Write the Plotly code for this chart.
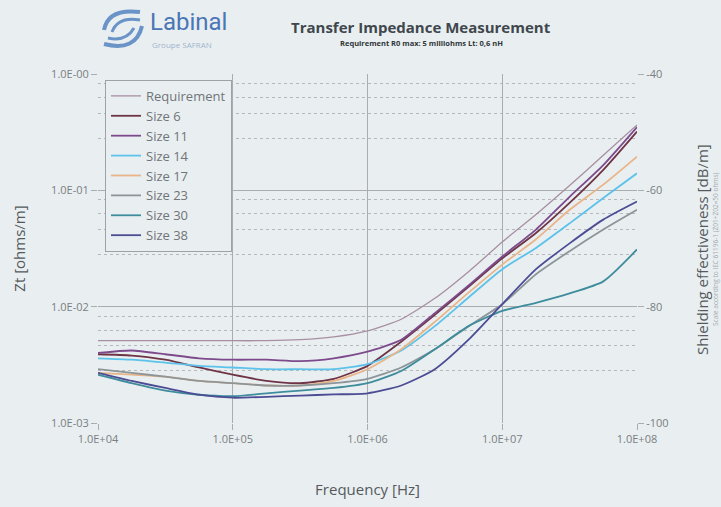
import plotly.graph_objects as go

# ---------------- data ----------------
freq = [1e4, 1.78e4, 3.16e4, 5.62e4, 1e5, 1.78e5, 3.16e5, 5.62e5, 1e6,
        1.78e6, 3.16e6, 5.62e6, 1e7, 1.78e7, 3.16e7, 5.62e7, 1e8]

requirement = [0.0051, 0.0051, 0.0051, 0.0051, 0.0051, 0.0051, 0.0052, 0.0055, 0.0062,
               0.0078, 0.0118, 0.0200, 0.036, 0.062, 0.11, 0.20, 0.365]
size6 = [0.0039, 0.0038, 0.0035, 0.0030, 0.0026, 0.0023, 0.0022, 0.0024, 0.0031,
         0.0050, 0.0085, 0.0148, 0.026, 0.043, 0.078, 0.15, 0.32]
size11 = [0.0040, 0.0042, 0.0039, 0.0036, 0.0035, 0.0035, 0.0034, 0.0036, 0.0041,
          0.0052, 0.0088, 0.0152, 0.027, 0.046, 0.088, 0.165, 0.35]
size14 = [0.0036, 0.0035, 0.0033, 0.0031, 0.0030, 0.0029, 0.0029, 0.0029, 0.0032,
          0.0042, 0.0068, 0.0120, 0.021, 0.032, 0.052, 0.086, 0.14]
size17 = [0.0027, 0.0026, 0.0025, 0.0023, 0.0022, 0.0021, 0.0021, 0.0023, 0.0029,
          0.0043, 0.0074, 0.0132, 0.023, 0.038, 0.068, 0.112, 0.195]
size23 = [0.0029, 0.0027, 0.0025, 0.0023, 0.0022, 0.0021, 0.0021, 0.0022, 0.0024,
          0.0030, 0.0043, 0.0068, 0.0105, 0.0190, 0.030, 0.046, 0.068]
size30 = [0.0026, 0.0022, 0.0019, 0.00175, 0.0017, 0.0018, 0.0019, 0.0020, 0.0022,
          0.0028, 0.0043, 0.0068, 0.0092, 0.0108, 0.013, 0.0165, 0.031]
size38 = [0.0027, 0.0023, 0.0020, 0.00175, 0.00165, 0.00168, 0.00172, 0.00176, 0.0018,
          0.0021, 0.0029, 0.0052, 0.0105, 0.021, 0.035, 0.056, 0.080]

series_names = ["Requirement", "Size 6", "Size 11", "Size 14", "Size 17",
                "Size 23", "Size 30", "Size 38"]
series_values = [requirement, size6, size11, size14, size17, size23, size30, size38]

x_tickvals = [1e4, 1e5, 1e6, 1e7, 1e8]
x_ticktext = ["1.0E+04", "1.0E+05", "1.0E+06", "1.0E+07", "1.0E+08"]
y_tickvals = [1, 0.1, 0.01, 0.001]
y_ticktext = ["1.0E-00", "1.0E-01", "1.0E-02", "1.0E-03"]
y_minor = [m * d for d in (1, 0.1, 0.01) for m in (0.83, 0.63, 0.46, 0.28)]
y2_tickvals = [-40, -60, -80, -100]
y2_ticktext = ["-40", "-60", "-80", "-100"]

# ---------------- styling ----------------
colors = ["#a88ea2", "#6e3446", "#7d4a8c", "#5cc2ea", "#e9b488",
          "#8d9599", "#3e8c9c", "#4c4c94"]
widths = [1.3, 1.8, 1.8, 1.8, 1.8, 1.8, 1.8, 1.8]
BG = "#e9eff1"
FONT = "Open Sans"
GRID = "#a9adb0"

fig = go.Figure()
for name, vals, c, w in zip(series_names, series_values, colors, widths):
    fig.add_trace(go.Scatter(x=freq, y=vals, name=name, mode="lines",
                             line=dict(color=c, width=w, shape="spline", smoothing=0.6)))

# helper trace so the dB axis is drawn
fig.add_trace(go.Scatter(x=[1e4, 1e8], y=[-100, -40], yaxis="y2", mode="lines",
                         line=dict(color="rgba(0,0,0,0)"), showlegend=False,
                         hoverinfo="skip"))

L, R, T, B = 98, 84, 74, 84
W, H = 721, 507
pw, ph = W - L - R, H - T - B


def px(x, y):
    return (x - L) / pw, (H - B - y) / ph


fig.update_layout(
    width=W, height=H,
    margin=dict(l=L, r=R, t=T, b=B),
    paper_bgcolor=BG, plot_bgcolor=BG,
    font=dict(family=FONT, color="#707070", size=11),
    showlegend=True,
    legend=dict(x=0.013, y=0.983, xanchor="left", yanchor="top",
                bgcolor=BG, bordercolor="#9da2a5", borderwidth=1,
                font=dict(size=13, color="#707478"), itemwidth=30,
                tracegroupgap=0),
    xaxis=dict(type="log", range=[4, 8], tickvals=x_tickvals, ticktext=x_ticktext,
               showgrid=True, gridcolor=GRID, gridwidth=1, zeroline=False,
               ticks="outside", ticklen=6, tickcolor=GRID,
               showline=False, tickfont=dict(size=11, color="#7a7e82"),
               title=dict(text="Frequency [Hz]", font=dict(size=15, color="#55595c"),
                          standoff=39)),
    yaxis=dict(type="log", range=[-3, 0], tickvals=y_tickvals, ticktext=y_ticktext,
               showgrid=True, gridcolor=GRID, gridwidth=1, zeroline=False,
               ticks="outside", ticklen=6, tickcolor=GRID,
               tickfont=dict(size=11, color="#7a7e82"),
               minor=dict(tickvals=y_minor, showgrid=True, gridcolor="#b5b9bc",
                          griddash="dot", gridwidth=1, ticks=""),
               title=dict(text="Zt [ohms/m]", font=dict(size=15, color="#55595c"),
                          standoff=21)),
    yaxis2=dict(overlaying="y", side="right", range=[-100, -40],
                tickvals=y2_tickvals, ticktext=y2_ticktext, showgrid=False,
                zeroline=False, ticks="outside", ticklen=6, tickcolor=GRID,
                tickfont=dict(size=11, color="#7a7e82")),
)

# title and subtitle
fig.add_annotation(text="<b>Transfer Impedance Measurement</b>", xref="paper", yref="paper",
                   x=px(421, 0)[0], y=px(0, 27)[1], showarrow=False,
                   font=dict(size=15, color="#3f474d", family=FONT),
                   xanchor="center", yanchor="middle")
fig.add_annotation(text="<b>Requirement R0 max: 5 milliohms Lt: 0,6 nH</b>", xref="paper",
                   yref="paper", x=px(421, 0)[0], y=px(0, 43)[1], showarrow=False,
                   font=dict(size=7.5, color="#2f3538", family=FONT),
                   xanchor="center", yanchor="middle")

# Labinal logo text
fig.add_annotation(text="Labinal", xref="paper", yref="paper",
                   x=px(148, 0)[0], y=px(0, 22)[1], showarrow=False,
                   font=dict(size=24, color="#4a76b6", family="Roboto"),
                   xanchor="left", yanchor="middle")
fig.add_annotation(text="Groupe SAFRAN", xref="paper", yref="paper",
                   x=px(150, 0)[0], y=px(0, 45)[1], showarrow=False,
                   font=dict(size=8, color="#9fb3cf", family=FONT),
                   xanchor="left", yanchor="middle")


# swirl logo drawn as arcs
def arc_path(pts):
    p = [px(x, y) for x, y in pts]
    return "M {} {} Q {} {} {} {}".format(p[0][0], p[0][1], p[1][0], p[1][1], p[2][0], p[2][1])


for pts, wdt in [([(104, 30), (108, 8), (140, 12)], 4),
                 ([(112, 32), (118, 16), (140, 20)], 3),
                 ([(142, 26), (136, 52), (104, 44)], 4),
                 ([(134, 28), (126, 42), (108, 38)], 3)]:
    fig.add_shape(type="path", path=arc_path(pts), xref="paper", yref="paper",
                  line=dict(color="#6a93c8", width=wdt))

# right-hand axis titles
fig.add_annotation(text="Shielding effectiveness [dB/m]", xref="paper", yref="paper",
                   x=px(702, 0)[0], y=px(0, 250)[1], showarrow=False, textangle=-90,
                   font=dict(size=15, color="#55595c", family=FONT),
                   xanchor="center", yanchor="middle")
fig.add_annotation(text="Scale according to IEC 61196-1 (Z01+Z02=50 ohms)", xref="paper",
                   yref="paper", x=px(715, 0)[0], y=px(0, 250)[1], showarrow=False,
                   textangle=-90, font=dict(size=6.5, color="#a5aaae", family=FONT),
                   xanchor="center", yanchor="middle")

fig.write_html(
    "out.html",
    config={"displayModeBar": False},
    post_script=("document.body.style.margin='0';document.body.style.padding='0';"
                 "document.body.style.background='" + BG + "';"
                 "document.body.style.overflow='hidden';"),
)
